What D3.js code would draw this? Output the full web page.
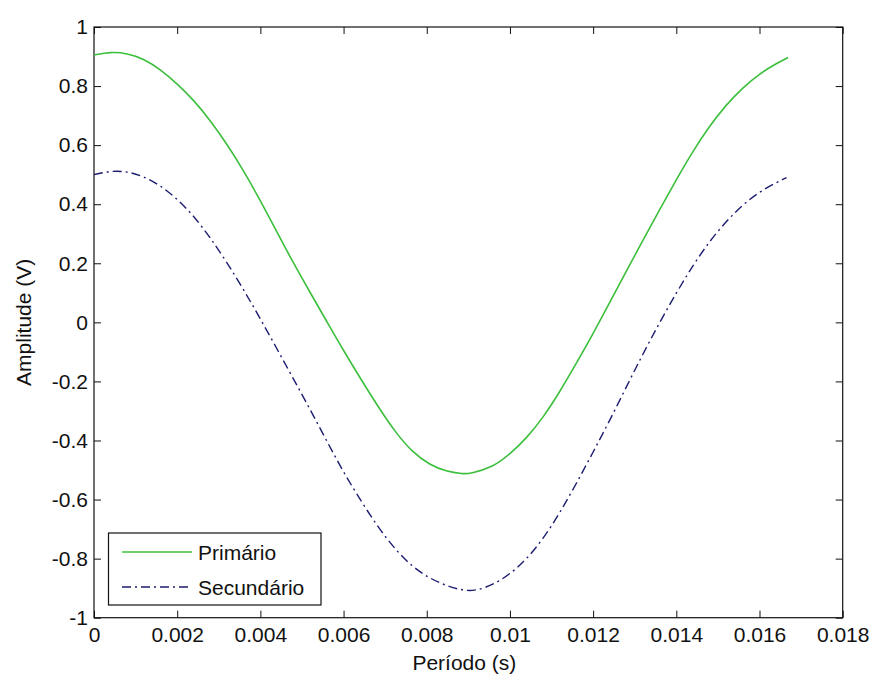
<!DOCTYPE html>
<html>
<head>
<meta charset="utf-8">
<script src="https://cdn.jsdelivr.net/npm/d3@7"></script>
<style>
	body { margin: 0; background: #fff; }
	text { font-family: 'Liberation Sans', Arial, sans-serif; font-size: 21px; fill: #111; }
</style>
</head>
<body>
<div class="chart"></div>
<script>
// values
const primTime = [0, 0.0004, 0.0008, 0.0012, 0.0016, 0.002, 0.0024, 0.0028, 0.0032, 0.0036, 0.004,
	0.0044, 0.0048, 0.0052, 0.0056, 0.006, 0.00645, 0.00685, 0.00726, 0.00766, 0.00806, 0.00847,
	0.00887, 0.00903, 0.0096, 0.01, 0.0104, 0.0108, 0.0112, 0.0116, 0.012, 0.0124, 0.0128, 0.0132,
	0.0136, 0.014, 0.0144, 0.0148, 0.0152, 0.0156, 0.016, 0.0164, 0.01669];
const primValues = [0.905, 0.916, 0.911, 0.892, 0.856, 0.808, 0.752, 0.683, 0.603, 0.513, 0.412,
	0.305, 0.199, 0.1, 0.002, -0.096, -0.2, -0.29, -0.375, -0.44, -0.482, -0.505,
	-0.513, -0.513, -0.49, -0.446, -0.392, -0.322, -0.235, -0.138, -0.038, 0.068, 0.174, 0.279,
	0.382, 0.483, 0.58, 0.665, 0.737, 0.795, 0.842, 0.876, 0.897];

const secTime = [0, 0.0004, 0.0008, 0.0012, 0.0016, 0.002, 0.0024, 0.0028, 0.0032, 0.0036, 0.004,
	0.0044, 0.0048, 0.0052, 0.0056, 0.006, 0.00645, 0.00685, 0.00726, 0.00766, 0.00806, 0.00847,
	0.00887, 0.00919, 0.0096, 0.01, 0.0104, 0.0108, 0.0112, 0.0116, 0.012, 0.0124, 0.0128, 0.0132,
	0.0136, 0.014, 0.0144, 0.0148, 0.0152, 0.0156, 0.016, 0.0164, 0.01665];
const secValues = [0.5, 0.513, 0.511, 0.494, 0.463, 0.418, 0.36, 0.286, 0.202, 0.11, 0.012,
	-0.09, -0.193, -0.296, -0.403, -0.508, -0.612, -0.698, -0.772, -0.828, -0.866, -0.892,
	-0.908, -0.909, -0.888, -0.853, -0.802, -0.733, -0.645, -0.545, -0.439, -0.332, -0.218, -0.106,
	0.0, 0.1, 0.193, 0.275, 0.342, 0.399, 0.442, 0.473, 0.49];

const xTicks = [0, 0.002, 0.004, 0.006, 0.008, 0.01, 0.012, 0.014, 0.016, 0.018];
const yTicks = [-1, -0.8, -0.6, -0.4, -0.2, 0, 0.2, 0.4, 0.6, 0.8, 1];
const seriesNames = ['Primário', 'Secundário'];

// layout
const svgWidth = 875;
const svgHeight = 679;
const plot = { left: 94, right: 842.7, top: 27, bottom: 617.7 };
const tickLen = 7;

const svg = d3.select('.chart').append('svg')
	.attr('width', svgWidth)
	.attr('height', svgHeight);

const x = d3.scaleLinear().domain([0, 0.018]).range([plot.left, plot.right]);
const y = d3.scaleLinear().domain([-1, 1]).range([plot.bottom, plot.top]);

const fmt = (d) => d === 0 ? '0' : String(+d.toFixed(3));

// axes with inward ticks on all four sides
svg.append('g').attr('transform', 'translate(0,' + plot.bottom + ')')
	.call(d3.axisBottom(x).tickValues(xTicks).tickSize(-tickLen).tickPadding(9).tickFormat(fmt))
	.call((g) => g.select('.domain').remove());
svg.append('g').attr('transform', 'translate(0,' + plot.top + ')')
	.call(d3.axisTop(x).tickValues(xTicks).tickSize(-tickLen).tickFormat(''))
	.call((g) => g.select('.domain').remove());
svg.append('g').attr('transform', 'translate(' + plot.left + ',0)')
	.call(d3.axisLeft(y).tickValues(yTicks).tickSize(-tickLen).tickPadding(6).tickFormat(fmt))
	.call((g) => g.select('.domain').remove());
svg.append('g').attr('transform', 'translate(' + plot.right + ',0)')
	.call(d3.axisRight(y).tickValues(yTicks).tickSize(-tickLen).tickFormat(''))
	.call((g) => g.select('.domain').remove());

svg.selectAll('.tick line').attr('stroke', '#111');
svg.selectAll('.tick text').style('font-size', '21px').attr('fill', '#111');

// box
svg.append('rect')
	.attr('x', plot.left).attr('y', plot.top)
	.attr('width', plot.right - plot.left).attr('height', plot.bottom - plot.top)
	.attr('fill', 'none').attr('stroke', '#111').attr('stroke-width', 1.2);

// lines, smoothed a little to hide reading noise
const line = d3.line().x((d) => x(d[0])).y((d) => y(d[1])).curve(d3.curveBasis);
const primData = primTime.map((t, i) => [t, primValues[i]]);
const secData = secTime.map((t, i) => [t, secValues[i]]);

const primColor = '#3cbf3c';
const secColor = '#1c1c70';
const secDash = '9,4,2,4';

svg.append('path').datum(primData).attr('d', line)
	.attr('fill', 'none').attr('stroke', primColor).attr('stroke-width', 1.6);
svg.append('path').datum(secData).attr('d', line)
	.attr('fill', 'none').attr('stroke', secColor).attr('stroke-width', 1.4)
	.attr('stroke-dasharray', secDash);

// axis labels
svg.append('text')
	.attr('x', (plot.left + plot.right) / 2 - 4)
	.attr('y', 670)
	.attr('text-anchor', 'middle')
	.text('Período (s)');

svg.append('text')
	.attr('transform', 'translate(31,' + ((plot.top + plot.bottom) / 2) + ') rotate(-90)')
	.attr('text-anchor', 'middle')
	.text('Amplitude (V)');

// legend
const legend = svg.append('g');
legend.append('rect')
	.attr('x', 108.5).attr('y', 533)
	.attr('width', 212.5).attr('height', 72)
	.attr('fill', '#fff').attr('stroke', '#111').attr('stroke-width', 1.2);

const legendRows = [
	{ name: seriesNames[0], color: primColor, dash: null, w: 1.6, yy: 552 },
	{ name: seriesNames[1], color: secColor, dash: secDash, w: 1.4, yy: 587 },
];
legendRows.forEach((r) => {
	legend.append('line')
		.attr('x1', 122).attr('x2', 192).attr('y1', r.yy).attr('y2', r.yy)
		.attr('stroke', r.color).attr('stroke-width', r.w)
		.attr('stroke-dasharray', r.dash);
	legend.append('text')
		.attr('x', 198).attr('y', r.yy)
		.attr('dy', '0.36em')
		.text(r.name);
});
</script>
</body>
</html>
